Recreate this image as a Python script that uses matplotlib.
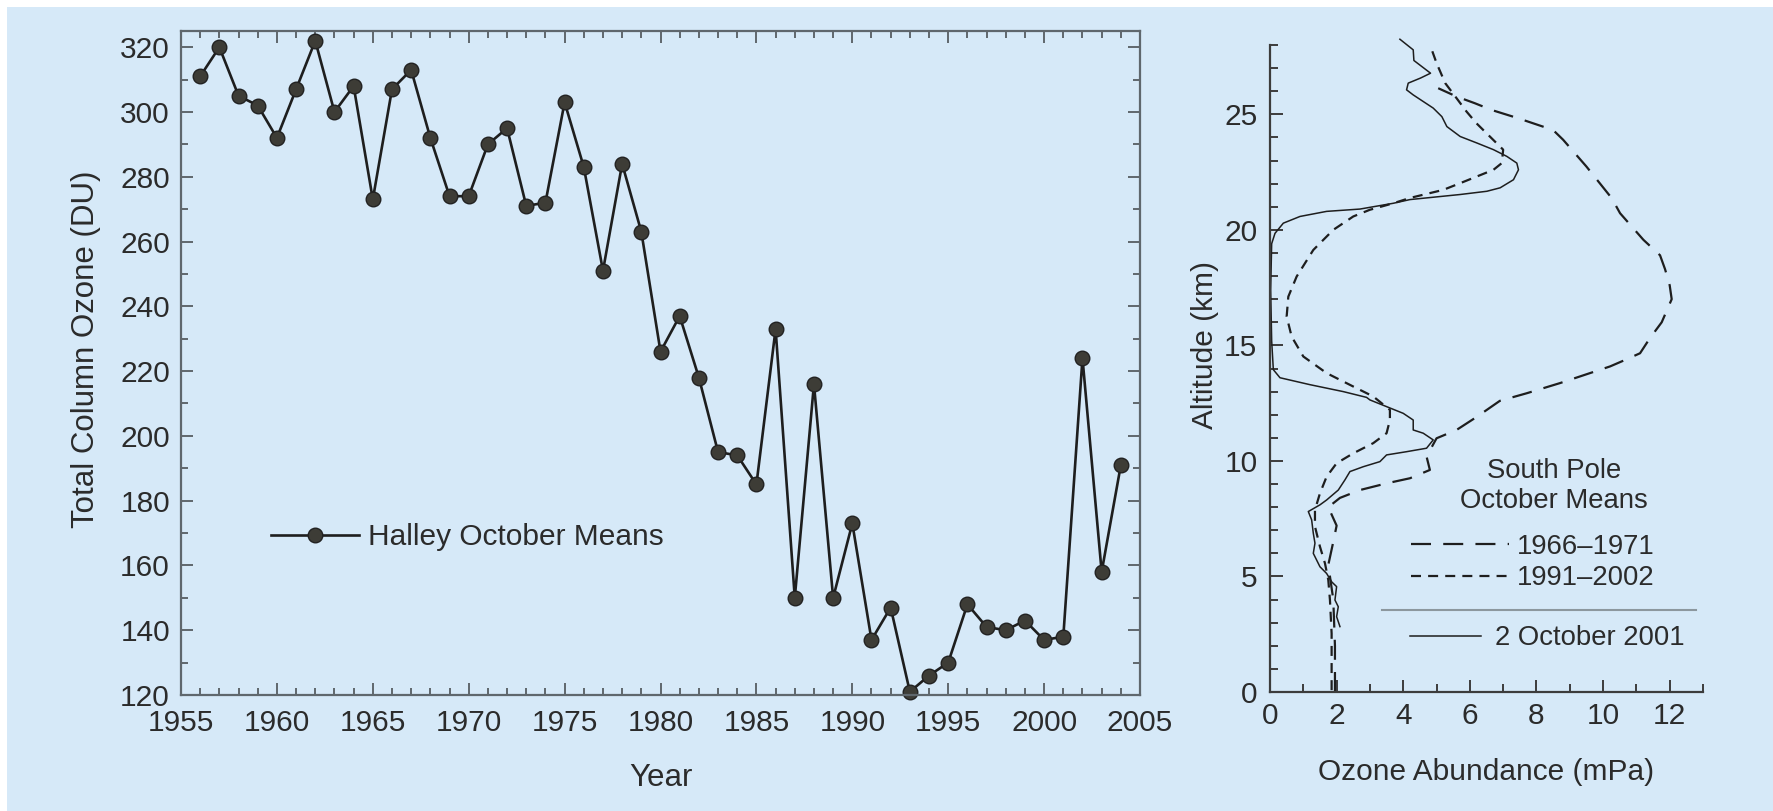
import matplotlib.pyplot as plt
from matplotlib.patches import Rectangle
from matplotlib.lines import Line2D
from matplotlib.ticker import MultipleLocator

plt.rcParams['font.family'] = ['Liberation Sans', 'DejaVu Sans']
plt.rcParams['text.color'] = '#2b2b2b'
plt.rcParams['axes.labelcolor'] = '#2b2b2b'

# Halley October means (DU)
years = list(range(1956, 2005))
halley = [311, 320, 305, 302, 292, 307, 322, 300, 308, 273,
          307, 313, 292, 274, 274, 290, 295, 271, 272, 303,
          283, 251, 284, 263, 226, 237, 218, 195, 194, 185,
          233, 150, 216, 150, 173, 137, 147, 121, 126, 130,
          148, 141, 140, 143, 137, 138, 224, 158, 191]

# South Pole ozone profiles: altitude (km) / ozone (mPa)
alt_6671 = [0, 2, 4, 5.5, 6.5, 7.2, 8.0, 8.4, 8.74, 9.03, 9.25, 9.61, 10.19, 10.98,
            11.34, 11.9, 12.6, 12.93, 13.37, 14.09, 14.37, 14.66, 15.3, 16.0, 17.0,
            17.6, 18.3, 18.9, 19.57, 20.72, 21.37, 22.74, 23.9, 24.32, 24.83, 25.19,
            25.48, 25.77, 26.13]
oz_6671 = [1.95, 1.95, 1.9, 1.75, 1.9, 2.0, 1.75, 2.1, 2.7, 3.5, 4.2, 4.8, 4.7, 5.0,
           5.6, 6.2, 6.9, 7.71, 8.71, 10.21, 10.66, 11.11, 11.4, 11.76, 12.06,
           12.0, 11.86, 11.71, 11.21, 10.51, 10.26, 9.5, 8.8, 8.5, 7.45, 6.65,
           6.15, 5.6, 5.05]

alt_9102 = [0.08, 1.09, 2.53, 3.98, 4.85, 5.57, 6.29, 7.16, 7.88, 8.6, 9.32, 9.9,
            10.33, 10.77, 11.2, 11.77, 12.21, 12.79, 13.22, 13.8, 14.52, 15.38,
            16.25, 17.11, 17.98, 19.13, 20.0, 20.58, 20.87, 21.15, 21.38, 21.73,
            22.02, 22.31, 22.6, 22.89, 23.47, 24.04, 24.61, 25.12, 25.7, 26.35,
            27.22, 27.82]
oz_9102 = [1.85, 1.85, 1.85, 1.8, 1.75, 1.65, 1.5, 1.35, 1.35, 1.5, 1.7, 2.0,
           2.5, 3.1, 3.5, 3.6, 3.6, 3.1, 2.5, 1.7, 1.0, 0.65,
           0.5, 0.55, 0.8, 1.3, 1.9, 2.5, 3.0, 3.7, 4.2, 5.2,
           5.71, 6.21, 6.71, 6.96, 7.0, 6.6, 6.2, 5.9, 5.6, 5.26,
           5.0, 4.85]

alt_2001 = [2.83, 3.26, 3.69, 3.98, 4.56, 4.77, 5.13, 5.42, 6.0, 6.44, 6.87, 7.45,
            7.81, 8.1, 8.31, 8.74, 9.18, 9.54, 9.75, 9.97, 10.26, 10.4, 10.55,
            10.91, 11.2, 11.34, 11.77, 12.06, 12.35, 12.64, 12.75, 13.0, 13.3,
            13.6, 13.95, 15.2, 17.4, 19.4, 19.85, 20.29, 20.58, 20.8, 20.9, 21.15,
            21.31, 21.53, 21.67, 21.82, 22.17, 22.6, 22.89, 23.18, 23.47, 23.76,
            24.04, 24.47, 24.9, 25.27, 25.84, 26.06, 26.35, 26.57, 26.78, 27.33,
            27.79, 28.25]
oz_2001 = [2.1, 2.0, 2.05, 1.95, 2.0, 1.85, 1.7, 1.5, 1.3, 1.35, 1.3, 1.25,
           1.15, 1.5, 1.7, 2.05, 2.25, 2.4, 2.8, 3.3, 3.5, 4.1, 4.7,
           4.9, 4.6, 4.3, 4.3, 4.0, 3.5, 3.0, 2.9, 2.2, 1.2,
           0.3, 0.1, 0.05, 0.02, 0.05, 0.15, 0.4, 0.9, 1.7, 2.7, 3.7,
           4.2, 5.71, 6.51, 6.91, 7.31, 7.46, 7.41, 7.11, 6.71, 6.21,
           5.71, 5.31, 5.16, 4.9, 4.3, 4.1, 4.15, 4.52, 4.82, 4.32,
           4.3, 3.9]

bg = '#d6e9f8'
ink = '#1e1e1e'

fig = plt.figure(figsize=(17.73, 8.11), dpi=100)
fig.patches.append(Rectangle((7 / 1773, 0), 1, (811 - 7) / 811, transform=fig.transFigure,
                             facecolor=bg, edgecolor='none', zorder=-1))

# ---- left: Halley ----
ax1 = fig.add_axes([0.10209, 0.14303, 0.5409, 0.81874])
ax1.set_facecolor('none')
ax1.plot(years, halley, color=ink, lw=1.9, marker='o', markersize=10.5,
         markerfacecolor='#3d3c36', markeredgecolor='#222222', markeredgewidth=1,
         label='Halley October Means', clip_on=False)
ax1.set_xlim(1955, 2005)
ax1.set_ylim(120, 325)
ax1.xaxis.set_major_locator(MultipleLocator(5))
ax1.xaxis.set_minor_locator(MultipleLocator(1))
ax1.yaxis.set_minor_locator(MultipleLocator(10))
ax1.set_yticks(range(120, 321, 20))
for s in ax1.spines.values():
    s.set_color('#5f676d')
    s.set_linewidth(1.6)
ax1.tick_params(which='both', direction='in', top=True, right=True, color='#5f676d',
                width=1.4, labelsize=21.5, labelcolor='#2b2b2b')
ax1.tick_params(which='major', length=8.5)
ax1.tick_params(which='minor', length=5)
ax1.tick_params(axis='x', pad=10)
ax1.tick_params(axis='y', pad=8)
ax1.set_xlabel('Year', fontsize=22.5)
ax1.set_ylabel('Total Column Ozone (DU)', fontsize=22.5)
ax1.xaxis.set_label_coords(0.5, -0.102)
ax1.yaxis.set_label_coords(-0.083, 0.52)
ax1.legend(loc='center left', bbox_to_anchor=(0.094, 0.238), frameon=False, fontsize=21.5,
           handlelength=2.95, handletextpad=0.3, borderpad=0, borderaxespad=0, numpoints=1)

# ---- right: South Pole profiles ----
ax2 = fig.add_axes([0.71630, 0.14673, 0.24422, 0.79778])
ax2.set_facecolor('none')
l1, = ax2.plot(oz_6671, alt_6671, color=ink, lw=1.6, linestyle=(0, (9, 5.5)), label='1966–1971')
l2, = ax2.plot(oz_9102, alt_9102, color=ink, lw=1.6, linestyle=(0, (4.5, 3.2)), label='1991–2002',
               clip_on=False)
l3, = ax2.plot(oz_2001, alt_2001, color=ink, lw=1.1, label='2 October 2001', clip_on=False)
ax2.set_xlim(0, 13)
ax2.set_ylim(0, 28)
ax2.xaxis.set_major_locator(MultipleLocator(2))
ax2.xaxis.set_minor_locator(MultipleLocator(1))
ax2.yaxis.set_major_locator(MultipleLocator(5))
ax2.yaxis.set_minor_locator(MultipleLocator(1))
ax2.spines['top'].set_visible(False)
ax2.spines['right'].set_visible(False)
for s in ('left', 'bottom'):
    ax2.spines[s].set_color('#3c3c3c')
    ax2.spines[s].set_linewidth(1.6)
ax2.tick_params(which='both', direction='in', color='#3c3c3c', width=1.4,
                labelsize=21.5, labelcolor='#2b2b2b')
ax2.tick_params(which='major', length=9)
ax2.tick_params(which='minor', length=5.5)
ax2.tick_params(axis='x', pad=7)
ax2.tick_params(axis='y', pad=9)
ax2.set_xlabel('Ozone Abundance (mPa)', fontsize=21.5)
ax2.set_ylabel('Altitude (km)', fontsize=21.5)
ax2.xaxis.set_label_coords(0.5, -0.102)
ax2.yaxis.set_label_coords(-0.118, 0.536)

ax2.text(0.656, 0.318, 'South Pole\nOctober Means', transform=ax2.transAxes, ha='center',
         va='center', multialignment='center', fontsize=19.8, linespacing=1.22)
leg1 = ax2.legend(handles=[l1, l2], loc='center left', bbox_to_anchor=(0.326, 0.200),
                  frameon=False, fontsize=19.8, handlelength=3.55, handletextpad=0.3,
                  labelspacing=0.2, borderpad=0, borderaxespad=0)
ax2.add_artist(leg1)
ax2.add_line(Line2D([0.259, 0.984], [0.127, 0.127], transform=ax2.transAxes,
                    color='#8c979e', lw=1.5, clip_on=False))
ax2.legend(handles=[l3], loc='center left', bbox_to_anchor=(0.323, 0.083),
           frameon=False, fontsize=19.8, handlelength=2.6, handletextpad=0.5,
           borderpad=0, borderaxespad=0)

fig.savefig('out.png', dpi=100, facecolor='white')
